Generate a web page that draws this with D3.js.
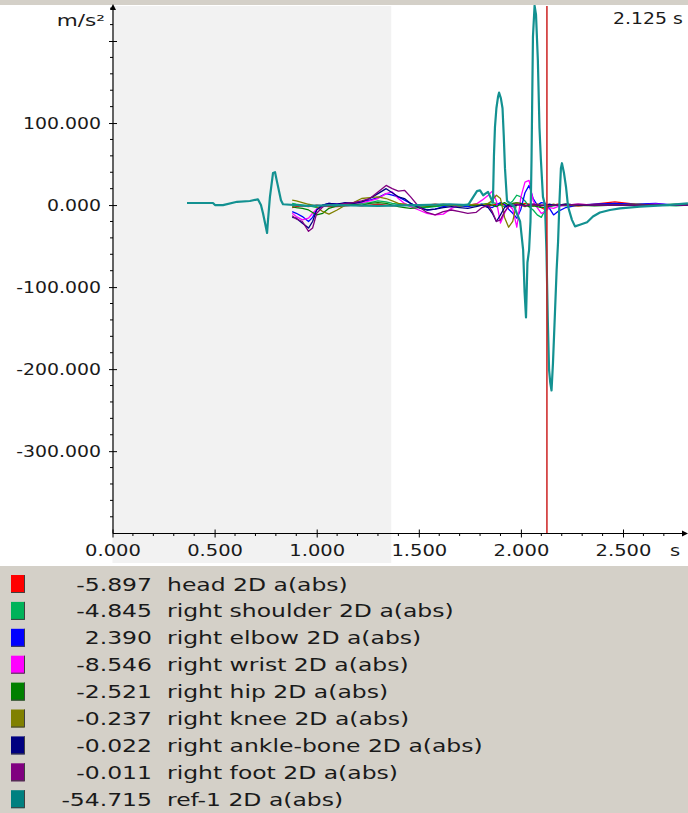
<!DOCTYPE html>
<html><head><meta charset="utf-8">
<script src="https://cdn.jsdelivr.net/npm/d3@7"></script>
<style>
body{margin:0;background:#fff}
svg{display:block}
</style>
</head><body>
<svg id="c" width="688" height="813"></svg>
<script>
// ---------- DATA ----------
const seriesNames = ["head 2D a(abs)","right shoulder 2D a(abs)","right elbow 2D a(abs)","right wrist 2D a(abs)","right hip 2D a(abs)","right knee 2D a(abs)","right ankle-bone 2D a(abs)","right foot 2D a(abs)","ref-1 2D a(abs)"];
const seriesColors = ["#ff0000","#00b35a","#0000ff","#ff00ff","#008000","#808000","#000080","#800080","#008080"];
const cursorValues = [-5.897,-4.845,2.390,-8.546,-2.521,-0.237,-0.022,-0.011,-54.715];
const cursorTime = 2.125;
const shadeEnd = 1.365;
const xTicks = [0,0.5,1,1.5,2,2.5];
const yTicks = [-300,-200,-100,0,100,200];
const xUnit = "s";
const yUnit = "m/s²";

const tBody = [0.88,0.90,0.93,0.96,0.98, 1.00,1.03,1.06,1.10,1.14, 1.18,1.22,1.26,1.30,1.34,
  1.37,1.40,1.43,1.46,1.50, 1.54,1.58,1.62,1.66,1.70, 1.74,1.78,1.81,1.84,1.86,
  1.88,1.90,1.92,1.94,1.96, 1.98,2.00,2.02,2.04,2.06, 2.08,2.10,2.12,2.14,2.16,
  2.18,2.22,2.28,2.36,2.46, 2.56,2.66,2.76,2.82];
const head = [-3,-2,-1,-2,-1, 0,-1,-2,-2,-1, 0,-1,0,1,0, -1,0,1,0,-1, 0,1,0,-1,0, 0,1,0,-1,0,
  1,2,0,-1,2, 1,0,2,1,-1, 1,-3,-6,-2,0, 1,0,-1,1,4, 1,0,0,1];
const shoulder = [2,1,0,-1,-2, -3,-2,0,1,2, 1,2,3,5,4, 2,1,0,-1,-2, -3,-2,-1,0,0, 1,0,1,2,3,
  2,0,-2,1,5, 12,10,5,-2,-6, -12,-15,-5,-2,-1, 0,-1,0,0,1, 0,0,-1,0];
const elbow = [-8,-10,-14,-20,-15, -5,0,2,1,2, 3,4,6,9,14, 12,10,6,2,-3, -6,-5,-2,0,-1, -2,0,1,-2,-3,
  0,3,1,-5,-10, -16,-5,15,24,8, 0,3,2,-4,-12, -8,-3,0,1,2, 1,2,0,0];
const wrist = [-10,-14,-18,-16,-10, -5,-2,0,1,0, 2,3,5,8,14, 16,8,2,-2,-6, -10,-12,-11,-4,0, 0,1,6,12,17,
  5,-22,-10,0,-5, -27,10,28,30,5, -3,-10,-8,-3,-4, -2,0,1,0,0, 0,1,0,0];
const hip = [-2,-3,-4,-6,-9, -12,-10,-4,-1,0, 1,0,2,3,2, 0,-2,-3,-4,-3, -2,-1,0,0,-1, 0,-1,0,1,0,
  -2,1,3,0,2, 3,2,0,-2,-1, -2,-3,-2.5,-1,0, 0,1,0,-1,0, 0,0,1,0];
const knee = [6,5,3,1,0, -2,-8,-11,-6,0, 3,8,9,10,8, 5,2,1,0,0, -1,0,1,0,-1, 0,1,0,2,6,
  12,8,-15,-27,-20, 3,0,-2,1,0, 1,0,-0.2,0,1, 0,0,-1,0,0, 1,0,0,0];
const ankle = [-15,-16,-22,-28,-20, -6,0,2,1,3, 2,4,8,14,20, 15,10,8,2,-3, -6,-5,-3,-2,-3, -4,-2,0,-3,-10,
  -20,-12,-3,0,-2, 0,1,-1,0,1, 0,-1,0,1,0, 0,1,0,0,0, 0,0,0,0];
const foot = [-13,-17,-20,-32,-28, -10,-2,0,0,2, 3,5,8,16,24, 20,17,18,10,-2, -9,-12,-8,-6,-8, -10,-9,-3,0,-8,
  -20,-18,-8,-2,0, 1,0,-1,0,1, 0,0,0,-1,0, 0,0,1,0,0, 0,0,0,0];

const tRef = [0.365,0.492,0.502,0.541,0.610,0.673,0.712,0.727,0.737,0.752,
  0.757,0.761,0.771,0.786,0.796,0.806,0.825,0.835,0.950,1.100,
  1.300,1.500,1.650,1.741,1.785,1.800,1.815,1.839,1.863,1.868,
  1.873,1.880,1.888,1.893,1.902,1.910,1.916,1.922,1.932,1.967,
  1.996,2.011,2.018,2.025,2.032,2.040,2.047,2.052,2.055,2.059,
  2.067,2.074,2.083,2.091,2.098,2.108,2.118,2.125,2.132,2.138,
  2.144,2.150,2.157,2.167,2.175,2.182,2.189,2.196,2.201,2.211,
  2.221,2.231,2.250,2.265,2.289,2.324,2.353,2.387,2.436,2.485,
  2.583,2.715,2.818];
const vRef = [2.5,2.5,0,0,4,5,7,0,-10,-28,
  -34,-20,10,39,40,28,6,1,-1,0,
  -1,0,1,0,17,18,12,16,3,60,
  95,118,132,137,130,118,85,45,5,-2,
  -20,-55,-106,-137,-70,-55,-20,55,120,205,
  243,232,177,94,55,10,0,-55,-143,-201,
  -217,-226,-193,-130,-79,-45,5,45,51,39,
  22,-2,-18,-26,-24,-21,-14,-9,-6,-4,
  -2,0,2];

const bodyValues = [head, shoulder, elbow, wrist, hip, knee, ankle, foot];

// ---------- CHART ----------
const FONT = '"DejaVu Sans", Verdana, sans-serif';
const fmt3 = v => v.toFixed(3);
const svg = d3.select('#c');
const x = d3.scaleLinear().domain([0, 2.5]).range([112.5, 623]);
const y = d3.scaleLinear().domain([-400, 240]).range([533.2, 8.2]);
const axisY = 533.5, axisX = 113;

// backgrounds
svg.append('rect').attr('x',0).attr('y',0).attr('width',688).attr('height',5).attr('fill','#d4d0c8');
svg.append('rect').attr('x',x(0)).attr('y',6).attr('width',x(shadeEnd)-x(0)).attr('height',557).attr('fill','#f2f2f2');
svg.append('rect').attr('x',0).attr('y',566).attr('width',688).attr('height',247).attr('fill','#d4d0c8');

// clip
svg.append('clipPath').attr('id','plotclip').append('rect')
  .attr('x',axisX).attr('y',5).attr('width',688-axisX).attr('height',axisY-5);

const line = d3.line().x(d => x(d[0])).y(d => y(d[1]));
const plot = svg.append('g').attr('clip-path','url(#plotclip)');

bodyValues.forEach((vals, i) => {
  plot.append('path').datum(tBody.map((t, k) => [t, vals[k]]))
    .attr('d', line).attr('fill','none').attr('stroke', seriesColors[i])
    .attr('stroke-width', 1.3).attr('stroke-linejoin','round');
});
plot.append('path').datum(tRef.map((t, k) => [t, vRef[k]]))
  .attr('d', line).attr('fill','none').attr('stroke', '#139191')
  .attr('stroke-width', 2.2).attr('stroke-linejoin','round');

// cursor
svg.append('line').attr('x1',x(cursorTime)+0.5).attr('x2',x(cursorTime)+0.5).attr('y1',6).attr('y2',axisY)
  .attr('stroke','#cc2020').attr('stroke-width',1.5);

// X axis
const xAxis = d3.axisBottom(x).tickValues(xTicks).tickFormat(fmt3).tickSizeInner(4).tickSizeOuter(0);
const gx = svg.append('g').attr('transform',`translate(0,${axisY})`).call(xAxis)
  .attr('font-family', FONT).attr('font-size', 16);
gx.select('.domain').remove();
gx.selectAll('.tick line').attr('y1',-4).attr('y2',4).attr('stroke','#000');
gx.selectAll('.tick text').attr('y',0).attr('dy',0).attr('fill','#1a1a1a')
  .attr('transform','translate(0,22) scale(1.22,1)');
d3.range(0, 28).map(i => i/10).filter(v => Math.round(v*10) % 5 !== 0 && x(v) < 686)
  .forEach(v => gx.append('line').attr('x1',x(v)).attr('x2',x(v)).attr('y1',0).attr('y2',2.5).attr('stroke','#000'));
svg.append('line').attr('x1',axisX).attr('x2',686).attr('y1',axisY).attr('y2',axisY).attr('stroke','#000').attr('stroke-width',1.2);
svg.append('path').attr('d',`M688,${axisY} l-6,-3 l0,6 z`).attr('fill','#000');
svg.append('text').attr('transform',`translate(${x(2.5)+47},${axisY+22}) scale(1.22,1)`)
  .attr('font-family',FONT).attr('font-size',16).attr('fill','#1a1a1a').text(xUnit);

// Y axis
const yAxis = d3.axisLeft(y).tickValues(yTicks).tickFormat(d => d === 200 ? '' : fmt3(d)).tickSizeInner(4).tickSizeOuter(0);
const gy = svg.append('g').attr('transform',`translate(${axisX},0)`).call(yAxis)
  .attr('font-family', FONT).attr('font-size', 16);
gy.select('.domain').remove();
gy.selectAll('.tick line').attr('x1',-4).attr('x2',4).attr('stroke','#000');
gy.selectAll('.tick text').attr('x',0).attr('fill','#1a1a1a')
  .attr('transform','translate(-12,0) scale(1.18,1)');
d3.range(-400, 241, 20).filter(v => v % 100 !== 0)
  .forEach(v => gy.append('line').attr('x1',-3).attr('x2',0).attr('y1',y(v)).attr('y2',y(v)).attr('stroke','#000'));
svg.append('line').attr('x1',axisX).attr('x2',axisX).attr('y1',axisY).attr('y2',8).attr('stroke','#000').attr('stroke-width',1.2);
svg.append('path').attr('d',`M${axisX},4 l-3,6 l6,0 z`).attr('fill','#000');
svg.append('text').attr('transform','translate(105,26) scale(1.35,1)').attr('text-anchor','end')
  .attr('font-family',FONT).attr('font-size',16).attr('fill','#1a1a1a').text(yUnit);

// cursor time label
svg.append('text').attr('transform','translate(613,24) scale(1.18,1)')
  .attr('font-family',FONT).attr('font-size',16).attr('fill','#1a1a1a')
  .text(fmt3(cursorTime) + ' s');

// legend
const rowY = i => 584 + i * 26.9;
const lg = svg.append('g').attr('font-family',FONT).attr('font-size',18.5);
seriesNames.forEach((name, i) => {
  const cy = rowY(i);
  lg.append('rect').attr('x',11).attr('y',cy-9).attr('width',14).attr('height',18).attr('fill',seriesColors[i]);
  lg.append('path').attr('d',`M11,${cy+8.5} h13.5 v-17.5`).attr('fill','none').attr('stroke','#404040').attr('stroke-width',1);
  lg.append('text').attr('transform',`translate(152,${cy+6.5}) scale(1.27,1)`).attr('text-anchor','end')
    .attr('fill','#1a1a1a').text(fmt3(cursorValues[i]));
  lg.append('text').attr('transform',`translate(167,${cy+6.5}) scale(1.27,1)`)
    .attr('fill','#1a1a1a').text(name);
});
</script>
</body></html>
